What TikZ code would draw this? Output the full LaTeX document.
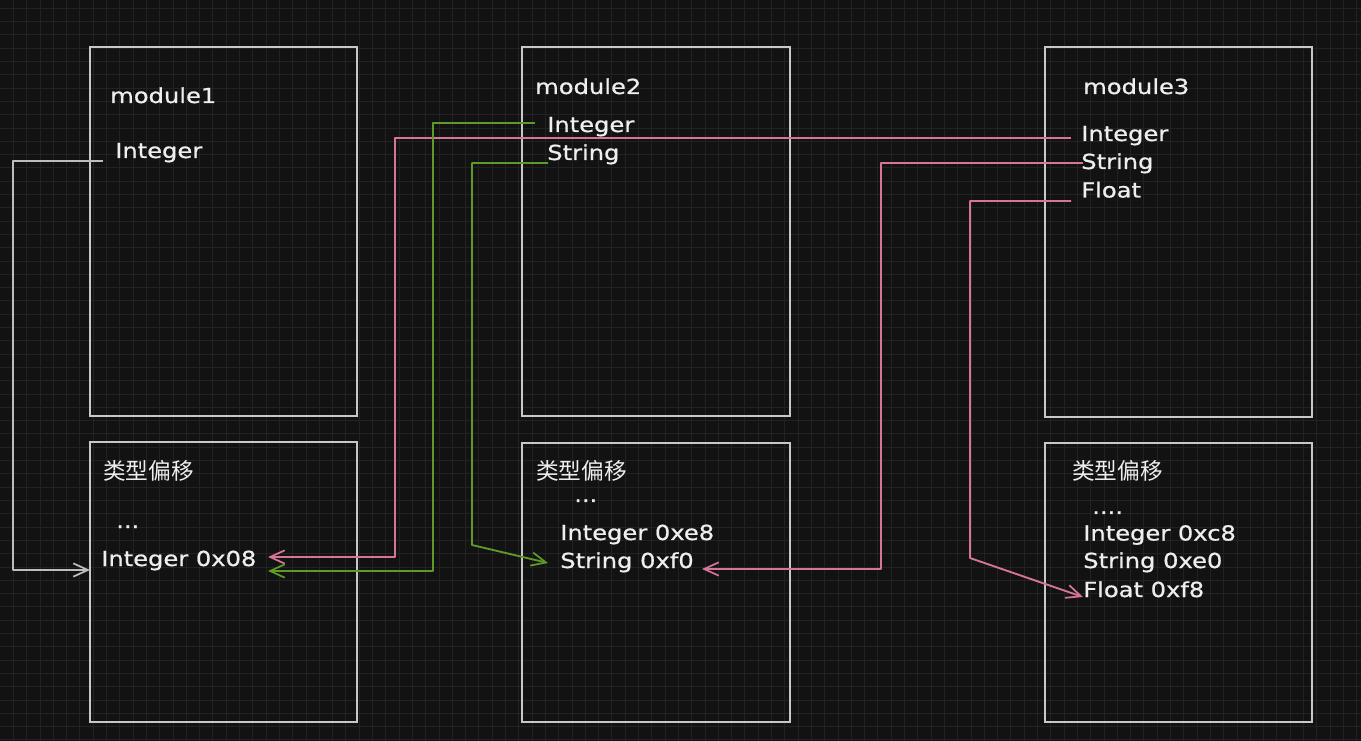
\documentclass[tikz,border=0pt]{standalone}
\usepackage{fontspec}
\usetikzlibrary{arrows.meta}
\newfontfamily\hand[FakeStretch=1.17,FakeBold=0.8]{DejaVu Sans}
\newfontfamily\cjk{Noto Sans CJK SC}
\definecolor{bgc}{HTML}{121212}
\definecolor{gridc}{HTML}{222222}
\definecolor{boxc}{HTML}{C8C8C8}
\definecolor{txtc}{HTML}{EEEEEE}
\definecolor{pinkc}{HTML}{D8749A}
\definecolor{greenc}{HTML}{5F9A28}
\definecolor{grayc}{HTML}{BDBDBD}
\tikzset{
  modbox/.style={draw=boxc, line width=1.1pt},
  lbl/.style={anchor=base west, inner sep=0pt, text=txtc, font=\hand\fontsize{15.5pt}{18pt}\selectfont},
  cjklbl/.style={anchor=base west, inner sep=0pt, text=txtc, font=\cjk\fontsize{17pt}{19pt}\selectfont},
  link/.style={line width=1.4pt, line join=round, -{Straight Barb[length=11pt,width=10pt,line width=1.3pt]}},
  pinklink/.style={link, draw=pinkc},
  greenlink/.style={link, draw=greenc},
  graylink/.style={link, draw=grayc},
}
\begin{document}
\begin{tikzpicture}[x=0.75pt,y=-0.75pt]
\useasboundingbox (0,0) rectangle (1361,741);
\fill[bgc] (0,0) rectangle (1361,741);
% grid
\foreach \i in {1,...,102} \draw[gridc, line width=0.6pt] (\i*13.3,0) -- (\i*13.3,741);
\foreach \j in {0,...,55} \draw[gridc, line width=0.6pt] (0,8.3+\j*13.3) -- (1361,8.3+\j*13.3);

% boxes
\draw[modbox] (90,47) rectangle (357,416);
\draw[modbox] (90,442) rectangle (357,722);
\draw[modbox] (522,47) rectangle (790,416);
\draw[modbox] (522,443) rectangle (790,722);
\draw[modbox] (1045,47) rectangle (1312,417);
\draw[modbox] (1045,443) rectangle (1312,722);

% module 1
\node[lbl] (m1name) at (110,103) {module1};
\node[lbl] (m1int) at (115,158) {Integer};
\node[cjklbl] (m1off) at (103,480) {类型偏移};
\node[lbl] (m1dots) at (116,528) {...};
\node[lbl] (m1intoff) at (101,566) {Integer 0x08};

% module 2
\node[lbl] (m2name) at (535,94) {module2};
\node[lbl] (m2int) at (547,132) {Integer};
\node[lbl] (m2str) at (547,160) {String};
\node[cjklbl] (m2off) at (536,480) {类型偏移};
\node[lbl] (m2dots) at (574,502) {...};
\node[lbl] (m2intoff) at (560,540) {Integer 0xe8};
\node[lbl] (m2stroff) at (560,568) {String 0xf0};

% module 3
\node[lbl] (m3name) at (1083,94) {module3};
\node[lbl] (m3int) at (1081,141) {Integer};
\node[lbl] (m3str) at (1081,169) {String};
\node[lbl] (m3flt) at (1081,197.5) {Float};
\node[cjklbl] (m3off) at (1072,480) {类型偏移};
\node[lbl] (m3dots) at (1092,514) {....};
\node[lbl] (m3intoff) at (1083,540.5) {Integer 0xc8};
\node[lbl] (m3stroff) at (1083,568) {String 0xe0};
\node[lbl] (m3fltoff) at (1083,597) {Float 0xf8};

% connector ends
\coordinate (s1) at (103,161);
\coordinate (t1) at (90,570);
\coordinate (s2) at (1071,138);
\coordinate (t2) at (268,557);
\coordinate (s3) at (535,123);
\coordinate (t3) at (268,571);
\coordinate (s4) at (548,163);
\coordinate (t4) at (548,563);
\coordinate (s5) at (1083,163);
\coordinate (t5) at (702,569);
\coordinate (s6) at (1071,201);
\coordinate (t6) at (1083,597);

% connectors
\draw[graylink] (s1) -- (13,161) -- (13,570) -- (t1);
\draw[pinklink] (s2) -- (395,138) -- (395,557) -- (t2);
\draw[greenlink] (s3) -- (433,123) -- (433,571) -- (t3);
\draw[greenlink] (s4) -- (472,163) -- (472,545) -- (t4);
\draw[pinklink] (s5) -- (881,163) -- (881,569) -- (t5);
\draw[pinklink] (s6) -- (970,201) -- (970,558) -- (t6);
\end{tikzpicture}
\end{document}
